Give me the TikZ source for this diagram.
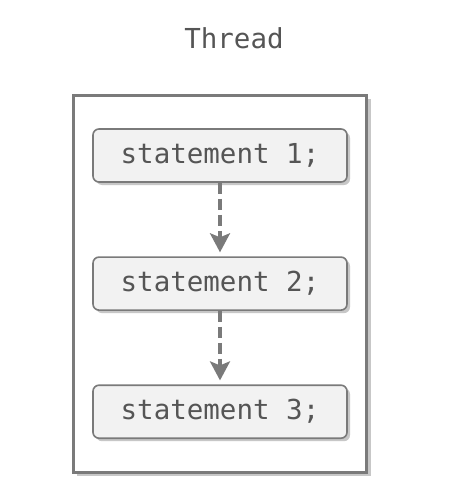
\documentclass[tikz,border=0pt]{standalone}
\usepackage{fontspec}
\newfontfamily\codefont{DejaVu Sans Mono}
\usetikzlibrary{arrows.meta,positioning,fit,shadows,backgrounds}

\definecolor{boxline}{HTML}{7A7A7A}
\definecolor{boxfill}{HTML}{F2F2F2}
\definecolor{codetext}{HTML}{555555}

\tikzset{
  stmt/.style={draw=boxline,line width=1.6pt,fill=boxfill,rounded corners=6pt,
    minimum width=254pt,minimum height=53pt,inner sep=0pt,
    font=\codefont\fontsize{27.5}{32}\selectfont,text=codetext,
    drop shadow={shadow xshift=3pt,shadow yshift=-3pt,fill=black!22,opacity=1}},
  frame/.style={draw=boxline,line width=3pt,fill=white,
    drop shadow={shadow xshift=4pt,shadow yshift=-4pt,fill=black!22,opacity=1}},
  flow/.style={boxline,line width=3.2pt,dash pattern=on 11pt off 5pt,
    -{Stealth[width=20pt,length=19pt,inset=4pt]},shorten >=4pt}
}

\begin{document}
\begin{tikzpicture}[x=1pt,y=-1pt]
\useasboundingbox (0,0) rectangle (453,495);

% Statements
\node[stmt] (s1) at (220,155.5) {statement 1;};
\node[stmt,below=73.5pt of s1] (s2) {statement 2;};
\node[stmt,below=73.5pt of s2] (s3) {statement 3;};

% Thread frame
\begin{scope}[on background layer]
\node[frame,fit=(s1)(s3),inner xsep=19pt,inner ysep=33pt] (thread) {};
\end{scope}

% Order of execution
\draw[flow] (s1.south) -- (s2.north);
\draw[flow] (s2.south) -- (s3.north);

\node[font=\codefont\fontsize{27.5}{32}\selectfont,text=codetext,
  above=41pt of thread.north,xshift=14pt] (title) {Thread};
\end{tikzpicture}
\end{document}
